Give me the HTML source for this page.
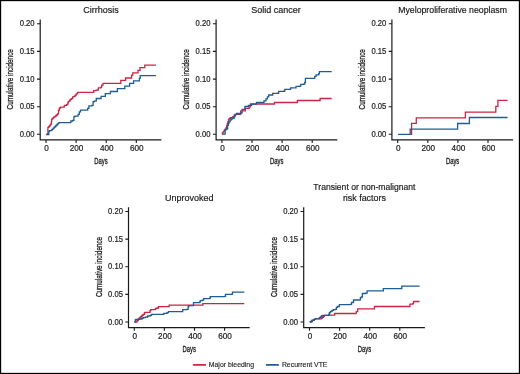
<!DOCTYPE html>
<html><head><meta charset="utf-8"><style>
html,body{margin:0;padding:0;background:#fff;}
body{width:520px;height:374px;overflow:hidden;}
svg{display:block;font-family:"Liberation Sans",sans-serif;will-change:transform;}
</style></head><body>
<svg width="520" height="374" viewBox="0 0 520 374">
<rect x="0" y="0" width="520" height="374" fill="#fff"/>

<g transform="translate(0.0 0.0)">
<path d="M40.2 19.5V139.9H161.4" fill="none" stroke="#1a1a1a" stroke-width="1.2"/>
<path d="M37.0 134.3H40.2M37.0 106.7H40.2M37.0 79.1H40.2M37.0 51.4H40.2M37.0 23.8H40.2M46.0 139.9V143.1M76.1 139.9V143.1M106.2 139.9V143.1M136.3 139.9V143.1" fill="none" stroke="#1a1a1a" stroke-width="1.1"/>
<text transform="translate(34.6 137.00) scale(0.9 1)" font-size="8.5" text-anchor="end" fill="#1a1a1a" stroke="#1a1a1a" stroke-width="0.2">0.00</text>
<text transform="translate(34.6 109.00) scale(0.9 1)" font-size="8.5" text-anchor="end" fill="#1a1a1a" stroke="#1a1a1a" stroke-width="0.2">0.05</text>
<text transform="translate(34.6 82.00) scale(0.9 1)" font-size="8.5" text-anchor="end" fill="#1a1a1a" stroke="#1a1a1a" stroke-width="0.2">0.10</text>
<text transform="translate(34.6 54.00) scale(0.9 1)" font-size="8.5" text-anchor="end" fill="#1a1a1a" stroke="#1a1a1a" stroke-width="0.2">0.15</text>
<text transform="translate(34.6 26.00) scale(0.9 1)" font-size="8.5" text-anchor="end" fill="#1a1a1a" stroke="#1a1a1a" stroke-width="0.2">0.20</text>
<text transform="translate(46.50 151.3) scale(0.96 1)" font-size="8.5" text-anchor="middle" fill="#1a1a1a" stroke="#1a1a1a" stroke-width="0.2">0</text>
<text transform="translate(76.60 151.3) scale(0.96 1)" font-size="8.5" text-anchor="middle" fill="#1a1a1a" stroke="#1a1a1a" stroke-width="0.2">200</text>
<text transform="translate(106.70 151.3) scale(0.96 1)" font-size="8.5" text-anchor="middle" fill="#1a1a1a" stroke="#1a1a1a" stroke-width="0.2">400</text>
<text transform="translate(136.80 151.3) scale(0.96 1)" font-size="8.5" text-anchor="middle" fill="#1a1a1a" stroke="#1a1a1a" stroke-width="0.2">600</text>
<text transform="translate(100.9 164.2) scale(0.655 1)" font-size="9" stroke="#1a1a1a" stroke-width="0.3" text-anchor="middle" fill="#1a1a1a">Days</text>
<text transform="translate(13.3 79.3) rotate(-90) scale(0.69 1)" font-size="9.2" stroke="#1a1a1a" stroke-width="0.3" text-anchor="middle" fill="#1a1a1a">Cumulative incidence</text>
<text transform="translate(100.90 13.10) scale(1.000 1)" font-size="9" text-anchor="middle" fill="#1a1a1a" stroke="#1a1a1a" stroke-width="0.18">Cirrhosis</text>
</g>
<path d="M46.6 134.3H47.5V133.9H47.9V127.4H48.8V126.5H49.8V125.2H50.7V124.2H51.4V121.6H51.7V119.1H52.7V118.1H53.6V117.1H54.9V116.5H55.9V115.5H56.9V114.6H57.8V113.6H58.5V112.0V110.1H59.4V108.0H60.7V107.1H64.0H64.2V105.9H64.8V105.3H66.6V104.7H67.8V102.9H68.4V101.4H69.6V100.5H70.2V99.3H71.4V98.7H72.7V96.9H73.9V96.3H75.1V95.1H76.3V93.9H77.5V92.7H78.1V92.3H93.1H93.7V90.6H96.1V90.2H97.7V90.0H98.3V87.8H101.0V87.1H101.7V85.1H103.0V83.3H120.8V80.4H125.6V78.0H131.6V75.2H132.8V72.8H138.0V70.4H140.0V67.6H144.8V65.2H155.9" fill="none" stroke="#cc2443" stroke-width="1.3"/>
<path d="M46.0 134.5H48.2H48.8V131.3H49.5V130.6H51.1V130.3H52.0V129.4H53.0V128.4H54.0V127.4H54.9V126.5H55.9V125.5H56.9V124.5H57.8V123.6H58.8V122.6H70.2H70.8V121.0H72.7V120.4H73.9V116.7H75.1V116.1H77.5H78.1V114.3H79.3V111.9H80.5V110.1H86.5H87.7V108.3H88.9V105.9H91.9V105.3H93.1V101.7H94.3V101.1H96.1V100.5H96.3V98.5H101.1V96.3H105.3V93.7H110.4V91.5H117.4V88.6H124.8V86.1H129.6V83.3H133.6V80.8H139.4V78.3H140.2V75.7H155.9" fill="none" stroke="#1f5c93" stroke-width="1.3"/>
<g transform="translate(175.9 0.0)">
<path d="M40.2 19.5V139.9H161.4" fill="none" stroke="#1a1a1a" stroke-width="1.2"/>
<path d="M37.0 134.3H40.2M37.0 106.7H40.2M37.0 79.1H40.2M37.0 51.4H40.2M37.0 23.8H40.2M46.0 139.9V143.1M76.1 139.9V143.1M106.2 139.9V143.1M136.3 139.9V143.1" fill="none" stroke="#1a1a1a" stroke-width="1.1"/>
<text transform="translate(34.6 137.00) scale(0.9 1)" font-size="8.5" text-anchor="end" fill="#1a1a1a" stroke="#1a1a1a" stroke-width="0.2">0.00</text>
<text transform="translate(34.6 109.00) scale(0.9 1)" font-size="8.5" text-anchor="end" fill="#1a1a1a" stroke="#1a1a1a" stroke-width="0.2">0.05</text>
<text transform="translate(34.6 82.00) scale(0.9 1)" font-size="8.5" text-anchor="end" fill="#1a1a1a" stroke="#1a1a1a" stroke-width="0.2">0.10</text>
<text transform="translate(34.6 54.00) scale(0.9 1)" font-size="8.5" text-anchor="end" fill="#1a1a1a" stroke="#1a1a1a" stroke-width="0.2">0.15</text>
<text transform="translate(34.6 26.00) scale(0.9 1)" font-size="8.5" text-anchor="end" fill="#1a1a1a" stroke="#1a1a1a" stroke-width="0.2">0.20</text>
<text transform="translate(46.50 151.3) scale(0.96 1)" font-size="8.5" text-anchor="middle" fill="#1a1a1a" stroke="#1a1a1a" stroke-width="0.2">0</text>
<text transform="translate(76.60 151.3) scale(0.96 1)" font-size="8.5" text-anchor="middle" fill="#1a1a1a" stroke="#1a1a1a" stroke-width="0.2">200</text>
<text transform="translate(106.70 151.3) scale(0.96 1)" font-size="8.5" text-anchor="middle" fill="#1a1a1a" stroke="#1a1a1a" stroke-width="0.2">400</text>
<text transform="translate(136.80 151.3) scale(0.96 1)" font-size="8.5" text-anchor="middle" fill="#1a1a1a" stroke="#1a1a1a" stroke-width="0.2">600</text>
<text transform="translate(100.9 164.2) scale(0.655 1)" font-size="9" stroke="#1a1a1a" stroke-width="0.3" text-anchor="middle" fill="#1a1a1a">Days</text>
<text transform="translate(13.3 79.3) rotate(-90) scale(0.69 1)" font-size="9.2" stroke="#1a1a1a" stroke-width="0.3" text-anchor="middle" fill="#1a1a1a">Cumulative incidence</text>
<text transform="translate(100.00 13.10) scale(1.000 1)" font-size="9" text-anchor="middle" fill="#1a1a1a" stroke="#1a1a1a" stroke-width="0.18">Solid cancer</text>
</g>
<path d="M222.2 134.2H222.4V132.9H223.1V132.2H223.8V131.2H224.5V130.2H225.2V129.2H226.0V128.0H226.6V126.0H227.2V124.0H227.8V122.0H228.4V120.0H229.0V118.8H229.7V118.3H230.4V117.6H232.5V116.9H233.5V116.5H234.2V115.5H235.0V114.3H240.7V110.8H245.0H245.3V108.4H248.8H249.2V106.8H250.3H250.5V104.0H274.0H274.5V102.5H297.0H297.4V100.5H319.8H320.1V98.5H331.7" fill="none" stroke="#cc2443" stroke-width="1.3"/>
<path d="M222.2 134.2H225.0H225.2V129.6H226.9V128.6H227.6V125.3H228.3V123.5H229.0V121.8H230.1V120.0H231.1V119.0H232.2V118.3H233.9V117.6H234.6V115.9H235.3V114.5H236.7V113.5H240.1H240.8V112.9H242.0H242.1V109.4H244.7H244.9V106.5H248.2H248.4V105.4H251.0H251.4V104.6H252.4V104.2H256.3H256.5V102.5H262.7H264.0V100.8H266.0V98.8H267.4V96.8H268.7V95.0H271.4H272.7V93.4H278.1V93.2H278.7V91.4H284.1V91.0H284.8V89.4H290.1V89.1H290.7V87.8H295.3H296.0V86.4H300.0V86.1H300.7V84.4H303.4V84.1H304.7V82.4H305.4V78.4H314.1H314.7V76.4H316.1V74.8H318.7V73.7H319.4V71.7H331.7" fill="none" stroke="#1f5c93" stroke-width="1.3"/>
<g transform="translate(351.7 0.0)">
<path d="M40.2 19.5V139.9H161.4" fill="none" stroke="#1a1a1a" stroke-width="1.2"/>
<path d="M37.0 134.3H40.2M37.0 106.7H40.2M37.0 79.1H40.2M37.0 51.4H40.2M37.0 23.8H40.2M46.0 139.9V143.1M76.1 139.9V143.1M106.2 139.9V143.1M136.3 139.9V143.1" fill="none" stroke="#1a1a1a" stroke-width="1.1"/>
<text transform="translate(34.6 137.00) scale(0.9 1)" font-size="8.5" text-anchor="end" fill="#1a1a1a" stroke="#1a1a1a" stroke-width="0.2">0.00</text>
<text transform="translate(34.6 109.00) scale(0.9 1)" font-size="8.5" text-anchor="end" fill="#1a1a1a" stroke="#1a1a1a" stroke-width="0.2">0.05</text>
<text transform="translate(34.6 82.00) scale(0.9 1)" font-size="8.5" text-anchor="end" fill="#1a1a1a" stroke="#1a1a1a" stroke-width="0.2">0.10</text>
<text transform="translate(34.6 54.00) scale(0.9 1)" font-size="8.5" text-anchor="end" fill="#1a1a1a" stroke="#1a1a1a" stroke-width="0.2">0.15</text>
<text transform="translate(34.6 26.00) scale(0.9 1)" font-size="8.5" text-anchor="end" fill="#1a1a1a" stroke="#1a1a1a" stroke-width="0.2">0.20</text>
<text transform="translate(46.50 151.3) scale(0.96 1)" font-size="8.5" text-anchor="middle" fill="#1a1a1a" stroke="#1a1a1a" stroke-width="0.2">0</text>
<text transform="translate(76.60 151.3) scale(0.96 1)" font-size="8.5" text-anchor="middle" fill="#1a1a1a" stroke="#1a1a1a" stroke-width="0.2">200</text>
<text transform="translate(106.70 151.3) scale(0.96 1)" font-size="8.5" text-anchor="middle" fill="#1a1a1a" stroke="#1a1a1a" stroke-width="0.2">400</text>
<text transform="translate(136.80 151.3) scale(0.96 1)" font-size="8.5" text-anchor="middle" fill="#1a1a1a" stroke="#1a1a1a" stroke-width="0.2">600</text>
<text transform="translate(100.9 164.2) scale(0.655 1)" font-size="9" stroke="#1a1a1a" stroke-width="0.3" text-anchor="middle" fill="#1a1a1a">Days</text>
<text transform="translate(13.3 79.3) rotate(-90) scale(0.69 1)" font-size="9.2" stroke="#1a1a1a" stroke-width="0.3" text-anchor="middle" fill="#1a1a1a">Cumulative incidence</text>
<text transform="translate(100.90 13.10) scale(0.973 1)" font-size="9" text-anchor="middle" fill="#1a1a1a" stroke="#1a1a1a" stroke-width="0.18">Myeloproliferative neoplasm</text>
</g>
<path d="M410.6 134.3H411.6V123.3H416.3V117.8H465.4V112.1H495.8V106.3H497.9V100.4H507.6" fill="none" stroke="#cc2443" stroke-width="1.3"/>
<path d="M398.1 134.3H410.2V129.2H457.6V123.5H469.4V117.5H507.6" fill="none" stroke="#1f5c93" stroke-width="1.3"/>
<g transform="translate(88.3 187.7)">
<path d="M40.2 19.5V139.9H161.4" fill="none" stroke="#1a1a1a" stroke-width="1.2"/>
<path d="M37.0 134.3H40.2M37.0 106.7H40.2M37.0 79.1H40.2M37.0 51.4H40.2M37.0 23.8H40.2M46.0 139.9V143.1M76.1 139.9V143.1M106.2 139.9V143.1M136.3 139.9V143.1" fill="none" stroke="#1a1a1a" stroke-width="1.1"/>
<text transform="translate(34.6 137.30) scale(0.9 1)" font-size="8.5" text-anchor="end" fill="#1a1a1a" stroke="#1a1a1a" stroke-width="0.2">0.00</text>
<text transform="translate(34.6 109.30) scale(0.9 1)" font-size="8.5" text-anchor="end" fill="#1a1a1a" stroke="#1a1a1a" stroke-width="0.2">0.05</text>
<text transform="translate(34.6 81.30) scale(0.9 1)" font-size="8.5" text-anchor="end" fill="#1a1a1a" stroke="#1a1a1a" stroke-width="0.2">0.10</text>
<text transform="translate(34.6 54.30) scale(0.9 1)" font-size="8.5" text-anchor="end" fill="#1a1a1a" stroke="#1a1a1a" stroke-width="0.2">0.15</text>
<text transform="translate(34.6 26.30) scale(0.9 1)" font-size="8.5" text-anchor="end" fill="#1a1a1a" stroke="#1a1a1a" stroke-width="0.2">0.20</text>
<text transform="translate(46.50 151.3) scale(0.96 1)" font-size="8.5" text-anchor="middle" fill="#1a1a1a" stroke="#1a1a1a" stroke-width="0.2">0</text>
<text transform="translate(76.60 151.3) scale(0.96 1)" font-size="8.5" text-anchor="middle" fill="#1a1a1a" stroke="#1a1a1a" stroke-width="0.2">200</text>
<text transform="translate(106.70 151.3) scale(0.96 1)" font-size="8.5" text-anchor="middle" fill="#1a1a1a" stroke="#1a1a1a" stroke-width="0.2">400</text>
<text transform="translate(136.80 151.3) scale(0.96 1)" font-size="8.5" text-anchor="middle" fill="#1a1a1a" stroke="#1a1a1a" stroke-width="0.2">600</text>
<text transform="translate(100.9 164.2) scale(0.655 1)" font-size="9" stroke="#1a1a1a" stroke-width="0.3" text-anchor="middle" fill="#1a1a1a">Days</text>
<text transform="translate(13.3 79.3) rotate(-90) scale(0.69 1)" font-size="9.2" stroke="#1a1a1a" stroke-width="0.3" text-anchor="middle" fill="#1a1a1a">Cumulative incidence</text>
<text transform="translate(100.90 13.10) scale(1.000 1)" font-size="9" text-anchor="middle" fill="#1a1a1a" stroke="#1a1a1a" stroke-width="0.18">Unprovoked</text>
</g>
<path d="M134.6 322.1H136.0V322.0H137.0V320.7H138.3V319.0H139.3V318.0H140.4V317.0H141.4V316.0H142.4V315.0H143.4V314.4H144.4V313.0H145.0V312.4H149.4H150.0V310.7H150.7V309.7H155.0V309.4H155.7V308.4H157.0V308.0H158.4V307.0H158.7V306.7H168.4H169.1V305.2H202.2H202.9V303.6H244.3" fill="none" stroke="#cc2443" stroke-width="1.3"/>
<path d="M134.4 322.1H134.7V322.0H135.3V320.0H136.0V319.4H138.7H139.7V319.0H141.4H142.0V318.4H143.0V317.7H145.4V317.2H147.0V317.0H147.7V316.0H150.0V315.7H151.0V315.0H151.7V314.4H163.5H163.8V313.4H167.1V312.7H168.4V311.7H181.8V311.6H182.7V309.6H186.7V309.3H188.1V306.9H188.7V305.6H192.8H193.5V302.6H199.5V302.2H200.2V300.6H202.2V300.2H203.6V298.6H209.6V298.2H210.3V296.6H224.4V296.4H225.5V294.4H231.8V294.1H232.5V292.1H244.3" fill="none" stroke="#1f5c93" stroke-width="1.3"/>
<g transform="translate(263.5 187.7)">
<path d="M40.2 19.5V139.9H161.4" fill="none" stroke="#1a1a1a" stroke-width="1.2"/>
<path d="M37.0 134.3H40.2M37.0 106.7H40.2M37.0 79.1H40.2M37.0 51.4H40.2M37.0 23.8H40.2M46.0 139.9V143.1M76.1 139.9V143.1M106.2 139.9V143.1M136.3 139.9V143.1" fill="none" stroke="#1a1a1a" stroke-width="1.1"/>
<text transform="translate(34.6 137.30) scale(0.9 1)" font-size="8.5" text-anchor="end" fill="#1a1a1a" stroke="#1a1a1a" stroke-width="0.2">0.00</text>
<text transform="translate(34.6 109.30) scale(0.9 1)" font-size="8.5" text-anchor="end" fill="#1a1a1a" stroke="#1a1a1a" stroke-width="0.2">0.05</text>
<text transform="translate(34.6 81.30) scale(0.9 1)" font-size="8.5" text-anchor="end" fill="#1a1a1a" stroke="#1a1a1a" stroke-width="0.2">0.10</text>
<text transform="translate(34.6 54.30) scale(0.9 1)" font-size="8.5" text-anchor="end" fill="#1a1a1a" stroke="#1a1a1a" stroke-width="0.2">0.15</text>
<text transform="translate(34.6 26.30) scale(0.9 1)" font-size="8.5" text-anchor="end" fill="#1a1a1a" stroke="#1a1a1a" stroke-width="0.2">0.20</text>
<text transform="translate(46.50 151.3) scale(0.96 1)" font-size="8.5" text-anchor="middle" fill="#1a1a1a" stroke="#1a1a1a" stroke-width="0.2">0</text>
<text transform="translate(76.60 151.3) scale(0.96 1)" font-size="8.5" text-anchor="middle" fill="#1a1a1a" stroke="#1a1a1a" stroke-width="0.2">200</text>
<text transform="translate(106.70 151.3) scale(0.96 1)" font-size="8.5" text-anchor="middle" fill="#1a1a1a" stroke="#1a1a1a" stroke-width="0.2">400</text>
<text transform="translate(136.80 151.3) scale(0.96 1)" font-size="8.5" text-anchor="middle" fill="#1a1a1a" stroke="#1a1a1a" stroke-width="0.2">600</text>
<text transform="translate(100.9 164.2) scale(0.655 1)" font-size="9" stroke="#1a1a1a" stroke-width="0.3" text-anchor="middle" fill="#1a1a1a">Days</text>
<text transform="translate(13.3 79.3) rotate(-90) scale(0.69 1)" font-size="9.2" stroke="#1a1a1a" stroke-width="0.3" text-anchor="middle" fill="#1a1a1a">Cumulative incidence</text>
<text transform="translate(100.90 2.30) scale(0.953 1)" font-size="9" text-anchor="middle" fill="#1a1a1a" stroke="#1a1a1a" stroke-width="0.18">Transient or non-malignant</text>
<text transform="translate(100.90 12.90) scale(0.990 1)" font-size="9" text-anchor="middle" fill="#1a1a1a" stroke="#1a1a1a" stroke-width="0.18">risk factors</text>
</g>
<path d="M310.2 322.0H310.7V321.4H311.7V320.4H313.3V320.0H314.3V319.4H315.4V318.8H320.0H321.4V318.0H322.4V317.4H323.4V316.7H324.0V316.0H324.4V315.4H329.0H329.4V315.1H334.4H334.7V313.5H355.5V313.4H356.3V311.6H357.7V308.9H373.8H374.5V306.5H409.5H409.9V304.2H412.9V303.6H413.5V301.5H419.6" fill="none" stroke="#cc2443" stroke-width="1.3"/>
<path d="M309.7 322.1H310.0V322.0H311.7V321.4H312.3V320.4H313.3V320.0H314.3V319.4H315.4V318.7H318.7V318.6H319.4V317.7H320.4V317.0H321.4V316.0H322.4V315.4H328.4H328.7V314.4H329.4V312.7H330.4V311.7H331.4V311.0H332.4V310.4H333.4V309.7H335.4V309.4H336.4V307.3H337.4V306.5H339.4V304.7H350.1V304.4H351.5V302.5H353.5V300.0H359.7V299.9H360.4V297.5H361.7V296.8H362.4V293.5H365.8V293.2H367.1V290.8H382.6H383.3V288.7H401.4V288.5H401.8V286.1H419.6" fill="none" stroke="#1f5c93" stroke-width="1.3"/>
<path d="M193.6 364.9H205.3" stroke="#cc2443" stroke-width="1.7" stroke-linecap="round"/>
<text x="208.8" y="367" font-size="6.9" fill="#1a1a1a" stroke="#1a1a1a" stroke-width="0.12">Major bleeding</text>
<path d="M266.6 364.9H278.2" stroke="#1f5c93" stroke-width="1.7" stroke-linecap="round"/>
<text x="281.9" y="367" font-size="6.9" fill="#1a1a1a" stroke="#1a1a1a" stroke-width="0.12">Recurrent VTE</text>
<rect x="0.5" y="0.5" width="519" height="373" fill="none" stroke="#000" stroke-width="1.3"/>
</svg>
</body></html>
